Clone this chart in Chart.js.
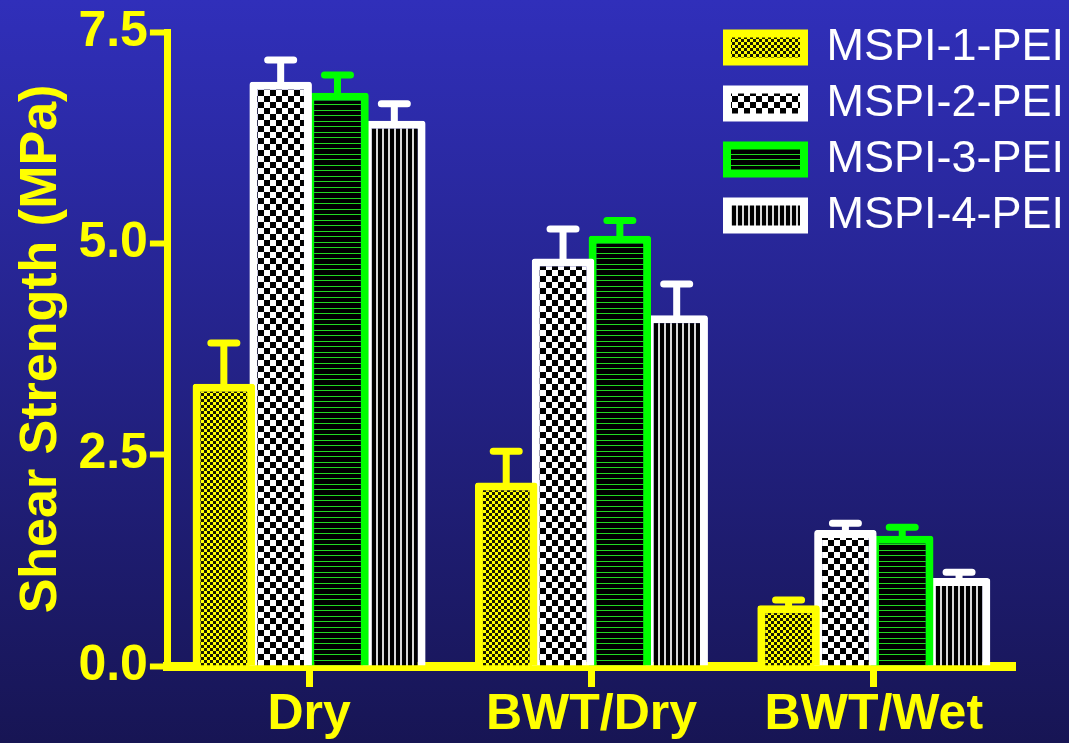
<!DOCTYPE html>
<html>
<head>
<meta charset="utf-8">
<script src="https://cdn.jsdelivr.net/npm/chart.js@4.4.1/dist/chart.umd.min.js"></script>
<style>
  html, body { margin: 0; padding: 0; background: #242480; }
  #wrap { width: 1069px; height: 743px; }
</style>
</head>
<body>
<div id="wrap"><canvas id="myChart"></canvas></div>
<script>
// Data
const categories = ['Dry', 'BWT/Dry', 'BWT/Wet'];
const seriesNames = ['MSPI-1-PEI', 'MSPI-2-PEI', 'MSPI-3-PEI', 'MSPI-4-PEI'];
const mspi1 = [3.34, 2.17, 0.72];
const mspi2 = [6.91, 4.82, 1.61];
const mspi3 = [6.78, 5.09, 1.54];
const mspi4 = [6.45, 4.15, 1.04];
// upper error (SD)
const mspi1Err = [0.48, 0.37, 0.06];
const mspi2Err = [0.26, 0.35, 0.08];
const mspi3Err = [0.21, 0.18, 0.10];
const mspi4Err = [0.20, 0.37, 0.07];
const yTicks = [0, 2.5, 5.0, 7.5];

const YELLOW = '#ffff00';
const WHITE = '#ffffff';
const GREEN = '#00ff00';

Chart.defaults.font.family = "'Liberation Sans', Arial, sans-serif";

// fill patterns
function makePattern(w, h, draw) {
    const c = document.createElement('canvas');
    c.width = w;
    c.height = h;
    const g = c.getContext('2d');
    draw(g);
    return document.getElementById('myChart').getContext('2d').createPattern(c, 'repeat');
}
const pat1 = makePattern(6, 6, g => {
    g.fillStyle = YELLOW; g.fillRect(0, 0, 6, 6);
    g.fillStyle = '#1a1a00'; g.fillRect(0, 0, 3, 3); g.fillRect(3, 3, 3, 3);
});
const pat2 = makePattern(12, 12, g => {
    g.fillStyle = WHITE; g.fillRect(0, 0, 12, 12);
    g.fillStyle = '#000'; g.fillRect(0, 0, 6, 6); g.fillRect(6, 6, 6, 6);
});
const pat3 = makePattern(4, 11, g => {
    g.fillStyle = '#000'; g.fillRect(0, 0, 4, 11);
    g.fillStyle = '#22d822'; g.fillRect(0, 0, 4, 1); g.fillRect(0, 5, 4, 1);
});
const pat4 = makePattern(6, 4, g => {
    g.fillStyle = '#000'; g.fillRect(0, 0, 6, 4);
    g.fillStyle = '#d8d8d8'; g.fillRect(4, 0, 2, 4);
});

// gradient background
const bgPlugin = {
    id: 'bg',
    beforeDraw(chart) {
        const ctx = chart.ctx;
        const grad = ctx.createLinearGradient(0, 0, 0, chart.height);
        grad.addColorStop(0, 'rgb(48,47,186)');
        grad.addColorStop(1, 'rgb(23,21,84)');
        ctx.save();
        ctx.fillStyle = grad;
        ctx.fillRect(0, 0, chart.width, chart.height);
        ctx.restore();
    }
};

// move the legend to the top right corner
const legendPlace = {
    id: 'legendPlace',
    afterLayout(chart) {
        const lg = chart.legend;
        lg.left = 716;
        lg.top = 14;
        lg.right = lg.left + lg.width;
        lg.bottom = lg.top + lg.height;
    }
};

// upper error bars
const errorBars = {
    id: 'errorBars',
    afterDatasetsDraw(chart) {
        const ctx = chart.ctx;
        const y = chart.scales.y;
        chart.data.datasets.forEach((ds, i) => {
            const meta = chart.getDatasetMeta(i);
            meta.data.forEach((bar, j) => {
                const top = y.getPixelForValue(ds.data[j] + ds.errors[j]);
                ctx.save();
                ctx.strokeStyle = ds.borderColor;
                ctx.lineWidth = 7;
                ctx.lineCap = 'round';
                ctx.beginPath();
                ctx.moveTo(bar.x, bar.y + 2);
                ctx.lineTo(bar.x, top);
                ctx.moveTo(bar.x - 13, top);
                ctx.lineTo(bar.x + 13, top);
                ctx.stroke();
                ctx.restore();
            });
        });
    }
};

function series(label, data, errors, fill, border) {
    return {
        label: label,
        data: data,
        errors: errors,
        backgroundColor: fill,
        borderColor: border,
        borderWidth: 8,
        borderRadius: 3,
        borderSkipped: 'start',
        categoryPercentage: 0.805,
        barPercentage: 1.1
    };
}

const ctx = document.getElementById('myChart').getContext('2d');
const myChart = new Chart(ctx, {
    type: 'bar',
    data: {
        labels: categories,
        datasets: [
            series(seriesNames[0], mspi1, mspi1Err, pat1, YELLOW),
            series(seriesNames[1], mspi2, mspi2Err, pat2, WHITE),
            series(seriesNames[2], mspi3, mspi3Err, pat3, GREEN),
            series(seriesNames[3], mspi4, mspi4Err, pat4, WHITE)
        ]
    },
    options: {
        responsive: true,
        maintainAspectRatio: false,
        animation: false,
        layout: { padding: { left: 10, right: 54, top: 0, bottom: 0 } },
        plugins: {
            tooltip: { enabled: false },
            legend: {
                position: 'chartArea',
                align: 'start',
                labels: {
                    color: WHITE,
                    font: { size: 45 },
                    boxWidth: 77,
                    boxHeight: 28,
                    padding: 11
                }
            }
        },
        scales: {
            x: {
                grid: {
                    drawOnChartArea: false,
                    offset: false,
                    tickLength: 21,
                    tickWidth: 7,
                    tickColor: YELLOW
                },
                border: { color: YELLOW, width: 9 },
                ticks: {
                    color: YELLOW,
                    font: { size: 50, weight: 'bold', lineHeight: 1 },
                    padding: 3,
                    maxRotation: 0,
                    autoSkip: false
                }
            },
            y: {
                min: 0,
                max: 7.5,
                afterBuildTicks: scale => {
                    scale.ticks = yTicks.map(v => ({ value: v }));
                },
                grid: {
                    drawOnChartArea: false,
                    tickLength: 18,
                    tickWidth: 6,
                    tickColor: YELLOW
                },
                border: { color: YELLOW, width: 7 },
                ticks: {
                    color: YELLOW,
                    font: { size: 50, weight: 'bold' },
                    padding: 2,
                    callback: v => Number(v).toFixed(1)
                },
                title: {
                    display: true,
                    text: 'Shear Strength (MPa)',
                    color: YELLOW,
                    font: { size: 52, weight: 'bold' },
                    padding: { top: 0, bottom: 4 }
                }
            }
        }
    },
    plugins: [bgPlugin, legendPlace, errorBars]
});
</script>
</body>
</html>
